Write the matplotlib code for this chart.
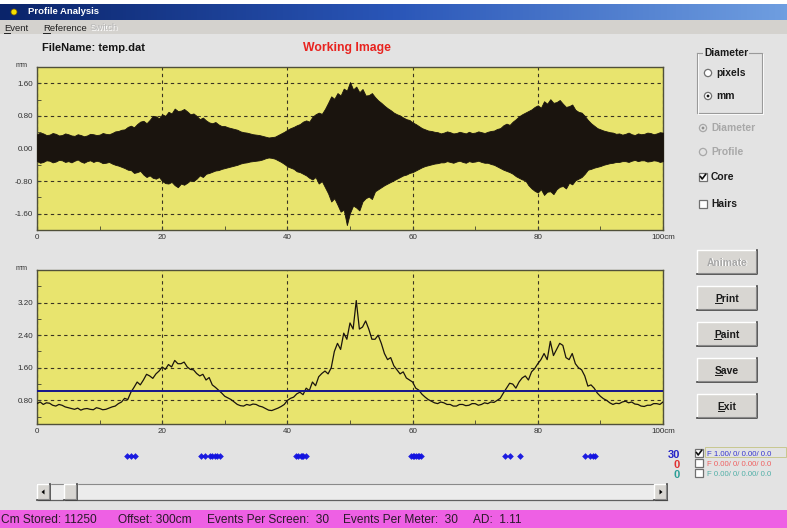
import matplotlib
matplotlib.use("Agg")
import numpy as np
import matplotlib.pyplot as plt
from matplotlib.patches import Rectangle, Circle, Polygon
from matplotlib.colors import LinearSegmentedColormap

plt.rcParams['font.family'] = ['Liberation Sans', 'DejaVu Sans']

W, H = 787, 528

# sample positions, every half cm across the screen
cm = [i / 2 for i in range(201)]

# core signal envelope (mm)
core_upper = [0.35, 0.39, 0.37, 0.33, 0.34, 0.38, 0.36, 0.32, 0.33, 0.37,
              0.35, 0.32, 0.31, 0.35, 0.33, 0.30, 0.32, 0.36, 0.35, 0.33,
              0.34, 0.38, 0.36, 0.35, 0.38, 0.42, 0.43, 0.46, 0.47, 0.53,
              0.56, 0.52, 0.60, 0.66, 0.68, 0.62, 0.70, 0.80, 0.79, 0.74,
              0.84, 0.80, 0.90, 0.86, 0.98, 0.92, 0.93, 0.97, 0.91, 0.84,
              0.86, 0.80, 0.72, 0.76, 0.69, 0.64, 0.62, 0.65, 0.59, 0.55,
              0.55, 0.52, 0.50, 0.48, 0.46, 0.42, 0.40, 0.39, 0.37, 0.35,
              0.34, 0.33, 0.31, 0.29, 0.27, 0.28, 0.29, 0.33, 0.37, 0.41,
              0.46, 0.50, 0.53, 0.57, 0.60, 0.66, 0.69, 0.66, 0.78, 0.84,
              0.88, 0.85, 0.97, 1.12, 1.28, 1.22, 1.36, 1.30, 1.47, 1.42,
              1.63, 1.45, 1.52, 1.38, 1.46, 1.30, 1.31, 1.36, 1.26, 1.18,
              1.12, 1.05, 0.99, 0.94, 0.88, 0.84, 0.81, 0.76, 0.72, 0.70,
              0.64, 0.60, 0.55, 0.50, 0.47, 0.44, 0.43, 0.41, 0.40, 0.37,
              0.39, 0.42, 0.40, 0.37, 0.38, 0.41, 0.39, 0.37, 0.41, 0.38,
              0.39, 0.42, 0.40, 0.38, 0.41, 0.43, 0.44, 0.48, 0.50, 0.57,
              0.61, 0.58, 0.66, 0.72, 0.79, 0.84, 0.88, 0.92, 0.96, 1.02,
              1.06, 1.00, 1.16, 1.10, 1.21, 1.12, 1.14, 1.19, 1.10, 1.02,
              1.04, 1.08, 0.95, 0.90, 0.88, 0.80, 0.70, 0.62, 0.56, 0.50,
              0.47, 0.44, 0.42, 0.40, 0.39, 0.36, 0.37, 0.34, 0.36, 0.39,
              0.35, 0.33, 0.37, 0.35, 0.36, 0.39, 0.38, 0.35, 0.37, 0.40,
              0.39]
core_lower = [-0.31, -0.35, -0.33, -0.29, -0.30, -0.34, -0.32, -0.28, -0.29, -0.33,
              -0.31, -0.34, -0.30, -0.27, -0.32, -0.35, -0.31, -0.29, -0.33, -0.30,
              -0.32, -0.36, -0.35, -0.33, -0.37, -0.40, -0.42, -0.45, -0.48, -0.52,
              -0.53, -0.60, -0.58, -0.55, -0.64, -0.70, -0.66, -0.72, -0.74, -0.70,
              -0.80, -0.85, -0.86, -0.82, -0.90, -0.95, -0.86, -0.89, -0.84, -0.78,
              -0.80, -0.74, -0.66, -0.70, -0.62, -0.60, -0.57, -0.54, -0.53, -0.50,
              -0.48, -0.46, -0.44, -0.42, -0.40, -0.37, -0.35, -0.34, -0.32, -0.31,
              -0.30, -0.29, -0.27, -0.24, -0.22, -0.23, -0.25, -0.29, -0.33, -0.38,
              -0.44, -0.47, -0.50, -0.56, -0.58, -0.62, -0.66, -0.72, -0.76, -0.70,
              -0.86, -0.80, -0.95, -1.10, -1.30, -1.22, -1.38, -1.55, -1.50, -1.88,
              -1.58, -1.40, -1.45, -1.52, -1.30, -1.22, -1.18, -1.24, -1.05, -1.00,
              -0.95, -0.90, -0.86, -0.82, -0.78, -0.74, -0.70, -0.66, -0.64, -0.60,
              -0.58, -0.54, -0.50, -0.46, -0.43, -0.41, -0.39, -0.37, -0.36, -0.34,
              -0.34, -0.31, -0.33, -0.35, -0.32, -0.30, -0.33, -0.35, -0.31, -0.33,
              -0.32, -0.30, -0.33, -0.35, -0.35, -0.38, -0.40, -0.44, -0.48, -0.52,
              -0.55, -0.58, -0.62, -0.68, -0.72, -0.76, -0.78, -0.90, -0.98, -1.04,
              -1.08, -1.00, -1.14, -1.06, -1.05, -1.12, -1.00, -0.94, -0.92, -0.98,
              -0.84, -0.88, -0.78, -0.74, -0.70, -0.62, -0.52, -0.50, -0.47, -0.45,
              -0.43, -0.40, -0.38, -0.36, -0.35, -0.33, -0.33, -0.31, -0.31, -0.33,
              -0.30, -0.28, -0.31, -0.29, -0.29, -0.32, -0.31, -0.29, -0.30, -0.33,
              -0.31]

# diameter profile (mm)
diameter = [0.72, 0.76, 0.70, 0.74, 0.73, 0.68, 0.66, 0.70, 0.68, 0.64,
            0.62, 0.60, 0.58, 0.61, 0.56, 0.59, 0.60, 0.58, 0.57, 0.62,
            0.60, 0.57, 0.58, 0.61, 0.64, 0.66, 0.72, 0.76, 0.85, 0.82,
            1.00, 1.12, 1.25, 1.18, 1.30, 1.44, 1.40, 1.34, 1.45, 1.52,
            1.62, 1.56, 1.68, 1.62, 1.78, 1.70, 1.70, 1.74, 1.62, 1.56,
            1.55, 1.46, 1.40, 1.44, 1.30, 1.36, 1.18, 1.12, 1.05, 0.98,
            0.90, 0.86, 0.82, 0.76, 0.70, 0.67, 0.66, 0.70, 0.68, 0.71,
            0.70, 0.66, 0.64, 0.60, 0.56, 0.55, 0.58, 0.61, 0.65, 0.70,
            0.80, 0.85, 0.88, 0.96, 1.00, 0.94, 1.10, 1.04, 1.25, 1.16,
            1.38, 1.46, 1.52, 1.45, 1.60, 2.00, 2.20, 2.05, 2.45, 2.30,
            2.70, 2.55, 3.25, 2.55, 2.60, 2.75, 2.55, 2.30, 2.30, 2.40,
            2.20, 1.95, 1.80, 1.85, 1.65, 1.55, 1.45, 1.50, 1.35, 1.30,
            1.25, 1.10, 1.05, 0.95, 0.88, 0.82, 0.78, 0.74, 0.72, 0.76,
            0.74, 0.70, 0.70, 0.66, 0.66, 0.70, 0.70, 0.67, 0.68, 0.72,
            0.72, 0.68, 0.70, 0.74, 0.72, 0.76, 0.75, 0.80, 0.85, 0.98,
            1.10, 1.22, 1.20, 1.10, 1.25, 1.35, 1.40, 1.30, 1.50, 1.58,
            1.70, 1.80, 1.95, 1.80, 2.25, 1.90, 2.05, 2.20, 2.15, 1.85,
            1.80, 1.95, 1.70, 1.60, 1.55, 1.40, 1.15, 1.18, 1.10, 0.98,
            0.90, 0.84, 0.80, 0.74, 0.70, 0.73, 0.72, 0.76, 0.78, 0.74,
            0.76, 0.71, 0.70, 0.66, 0.65, 0.68, 0.68, 0.72, 0.72, 0.70,
            0.76]
ref_level = 1.02

# detected events (cm)
event_pos = [14.3, 15.0, 15.6, 26.2, 26.9, 27.6, 28.0, 28.4, 28.8, 29.2,
             41.3, 41.7, 42.1, 42.3, 42.5, 42.9, 59.8, 60.0, 60.2, 60.6,
             60.8, 61.0, 61.4, 74.8, 75.6, 77.2, 87.6, 88.3, 88.8, 89.2]

x_ticks = [0, 20, 40, 60, 80, 100]
x_labels = ['0', '20', '40', '60', '80', '100cm']
top_yticks = [-1.6, -0.8, 0.0, 0.8, 1.6]
bot_yticks = [0.8, 1.6, 2.4, 3.2]

BG = '#e3e3e3'
YELLOW = '#e8e46e'
INK = '#1a140e'


def frac(x0, y0, x1, y1):
    return [x0 / W, 1 - y1 / H, (x1 - x0) / W, (y1 - y0) / H]


fig = plt.figure(figsize=(W / 100, H / 100), dpi=100)
fig.patch.set_facecolor(BG)

ui = fig.add_axes([0, 0, 1, 1])
ui.axis('off')

# title bar
grad = np.linspace(0, 1, 256).reshape(1, -1)
cmap = LinearSegmentedColormap.from_list('tb', ['#0a246a', '#2a56b8', '#6f9ee0'])
ui.imshow(grad, extent=(0, W, 20, 4), aspect='auto', cmap=cmap, zorder=1)
ui.add_patch(Rectangle((0, 0), W, 4, fc='white', ec='none', zorder=1))
ui.add_patch(Circle((14, 12), 3, fc='#f4e000', ec='#806000', lw=0.5, zorder=2))
ui.text(28, 12, 'Profile Analysis', color='white', fontsize=6.8,
        fontweight='bold', va='center', zorder=3)

# menu bar
ui.add_patch(Rectangle((0, 20), W, 14, fc='#d4d2ce', ec='none', zorder=1))
r = fig.canvas.get_renderer()


def label(x, y, s, ul=False, **kw):
    t = ui.text(x, y, s, va='baseline', zorder=5, **kw)
    if ul:
        bb = t.get_window_extent(r)
        probe = ui.text(0, 0, s[0], fontsize=t.get_fontsize(),
                        fontweight=t.get_fontweight())
        w = probe.get_window_extent(r).width
        probe.remove()
        ui.plot([bb.x0, bb.x0 + w], [y + 1.5, y + 1.5], color=t.get_color(),
                lw=0.7, zorder=5)
    return t


label(4, 31, 'Event', ul=True, fontsize=6.8, color='#202020')
label(43, 31, 'Reference', ul=True, fontsize=6.8, color='#202020')
ui.text(91, 31, 'Switch', fontsize=6.8, color='white', va='baseline', zorder=5)
ui.text(90, 30, 'Switch', fontsize=6.8, color='#b8b8b8', va='baseline', zorder=5)

# headings
ui.text(42, 51, 'FileName: temp.dat', fontsize=8, fontweight='bold',
        color='#151515', va='baseline')
ui.text(347, 51, 'Working Image', fontsize=8.8, fontweight='bold',
        color='#e8231f', ha='center', va='baseline')
ui.text(22, 67, 'mm', fontsize=5.2, ha='center', va='baseline', color='#303030')
ui.text(22, 270, 'mm', fontsize=5.2, ha='center', va='baseline', color='#303030')


def style_plot(ax, ylim, yticks, minor):
    ax.set_facecolor(YELLOW)
    ax.set_xlim(0, 100)
    ax.set_ylim(*ylim)
    ax.set_xticks(x_ticks)
    ax.set_xticklabels(x_labels)
    ax.set_xticks([10, 30, 50, 70, 90], minor=True)
    ax.set_yticks(yticks)
    ax.set_yticklabels(['%.2f' % v for v in yticks])
    ax.set_yticks(minor, minor=True)
    ax.grid(True, which='major', color='#3a3322', ls=(0, (3, 3)), lw=0.8)
    ax.tick_params(which='both', direction='in', length=3, color='#404030',
                   labelsize=5.8, pad=3, labelcolor='#303030')
    for s in ax.spines.values():
        s.set_color('#50503a')
        s.set_linewidth(1.0)
    ax.set_axisbelow(True)


# core plot
ax1 = fig.add_axes(frac(37, 67, 663, 230))
style_plot(ax1, (-2.0, 2.0), top_yticks, [-1.2, -0.4, 0.4, 1.2])
ax1.fill_between(cm, core_lower, core_upper, color=INK, lw=0.6, zorder=3)

# diameter plot
ax2 = fig.add_axes(frac(37, 270, 663, 424))
style_plot(ax2, (0.22, 4.0), bot_yticks, [0.4, 1.2, 2.0, 2.8, 3.6])
ax2.plot(cm, diameter, color=INK, lw=0.9, zorder=3)
ax2.axhline(ref_level, color='#14148c', lw=1.4, zorder=4)

# event strip
ax3 = fig.add_axes(frac(37, 450, 663, 462))
ax3.set_xlim(0, 100)
ax3.set_ylim(-1, 1)
ax3.axis('off')
ax3.plot(event_pos, [0] * len(event_pos), 'D', color='#1212e0', ms=3.4,
         mew=0, alpha=0.95)


def bevel(x0, y0, x1, y1, face='#d8d6d2', raised=True):
    ui.add_patch(Rectangle((x0, y0), x1 - x0, y1 - y0, fc=face, ec='none', zorder=3))
    hi, lo = ('white', '#404040') if raised else ('#808080', 'white')
    ui.plot([x0, x0, x1], [y1, y0, y0], color=hi, lw=1.0, zorder=4)
    ui.plot([x0, x1, x1], [y1, y1, y0], color=lo, lw=1.2, zorder=4)
    if raised:
        ui.plot([x0 + 1, x1 - 1, x1 - 1], [y1 - 1, y1 - 1, y0 + 1],
                color='#8a8a8a', lw=0.8, zorder=4)


# buttons
buttons = [('Animate', 250, False), ('Print', 286, True), ('Paint', 322, True),
           ('Save', 358, True), ('Exit', 394, True)]
for name, top, enabled in buttons:
    bevel(697, top, 757, top + 24)
    if enabled:
        label(727, top + 15.5, name, ul=True, ha='center', fontsize=7.4,
              fontweight='bold', color='#1a1a1a')
    else:
        ui.text(728, top + 16.5, name, ha='center', va='baseline', fontsize=7.4,
                fontweight='bold', color='white', zorder=5)
        ui.text(727, top + 15.5, name, ha='center', va='baseline', fontsize=7.4,
                fontweight='bold', color='#a8a8a8', zorder=5)

# diameter units group
ui.plot([697, 697, 762, 762, 697], [53, 113, 113, 53, 53], color='#9a9a9a', lw=0.8)
ui.plot([698, 698, 763, 763], [54, 114, 114, 54], color='white', lw=0.6)
ui.text(704, 56, 'Diameter', fontsize=7.4, fontweight='bold', va='baseline',
        color='#1a1a1a', bbox=dict(fc=BG, ec='none', pad=0.6), zorder=5)


def radio(x, y, text, on=False, enabled=True):
    face = 'white' if enabled else BG
    edge = '#707070' if enabled else '#a8a8a8'
    ui.add_patch(Circle((x, y), 3.6, fc=face, ec=edge, lw=0.9, zorder=4))
    if on:
        ui.add_patch(Circle((x, y), 1.4, fc='#151515' if enabled else '#909090',
                            ec='none', zorder=5))
    ui.text(x + 8, y + 3, text, fontsize=7.4, fontweight='bold', va='baseline',
            color='#1a1a1a' if enabled else '#a8a8a8', zorder=5)


def checkbox(x, y, text=None, on=False, color='#1a1a1a', fs=7.4, bold=True):
    ui.add_patch(Rectangle((x - 4, y - 4), 8, 8, fc='white', ec='#707070', lw=0.9, zorder=4))
    if on:
        ui.plot([x - 2.5, x - 0.8, x + 2.6], [y - 0.4, y + 2, y - 2.6],
                color='#101010', lw=1.2, zorder=5)
    if text:
        ui.text(x + 8, y + 3, text, fontsize=fs, va='baseline', color=color,
                fontweight='bold' if bold else 'normal', zorder=5)


radio(708, 73, 'pixels')
radio(708, 96, 'mm', on=True)
radio(703, 128, 'Diameter', on=True, enabled=False)
radio(703, 152, 'Profile', enabled=False)
checkbox(703, 177, 'Core', on=True)
checkbox(703, 204, 'Hairs')

# filter channels
channels = [('30', '#2424c8', 'F 1.00/ 0/ 0.00/ 0.0', '#3838d0', True, 455),
            ('0', '#e03030', 'F 0.00/ 0/ 0.00/ 0.0', '#f06060', False, 465),
            ('0', '#2a9f98', 'F 0.00/ 0/ 0.00/ 0.0', '#50b0a8', False, 475)]
for count, ccol, txt, tcol, on, y in channels:
    ui.text(680, y + 3.5, count, fontsize=8, fontweight='bold', color=ccol,
            ha='right', va='baseline')
    checkbox(699, y - 2, on=on)
    ui.text(707, y + 1.5, txt, fontsize=5.6, color=tcol, va='baseline')
ui.add_patch(Rectangle((705, 447), 81, 10, fc='none', ec='#c8c890', lw=0.7, zorder=3))

# scrollbar
ui.add_patch(Rectangle((37, 484), 630, 16, fc='#ececec', ec='none', zorder=2))
ui.plot([37, 667], [484, 484], color='#8a8a8a', lw=0.8, zorder=3)
ui.plot([37, 667], [500, 500], color='#606060', lw=0.9, zorder=3)
bevel(37, 484, 50, 500)
ui.add_patch(Polygon([[41.5, 492], [44.5, 489.5], [44.5, 494.5]], fc='black', ec='none', zorder=5))
bevel(64, 484, 77, 500)
bevel(654, 484, 667, 500)
ui.add_patch(Polygon([[662.5, 492], [659.5, 489.5], [659.5, 494.5]], fc='black', ec='none', zorder=5))

# status bar
ui.add_patch(Rectangle((0, 510), W, 18, fc='#ee60e4', ec='none', zorder=2))
status = [(1, 'Cm Stored: 11250'), (118, 'Offset: 300cm'),
          (207, 'Events Per Screen:  30'), (343, 'Events Per Meter:  30'),
          (473, 'AD:  1.11')]
for x, s in status:
    ui.text(x, 523, s, fontsize=8.6, color='#2a1a2a', va='baseline', zorder=3)

ui.set_xlim(0, W)
ui.set_ylim(H, 0)

fig.savefig('out.png', dpi=100, facecolor=fig.get_facecolor())
